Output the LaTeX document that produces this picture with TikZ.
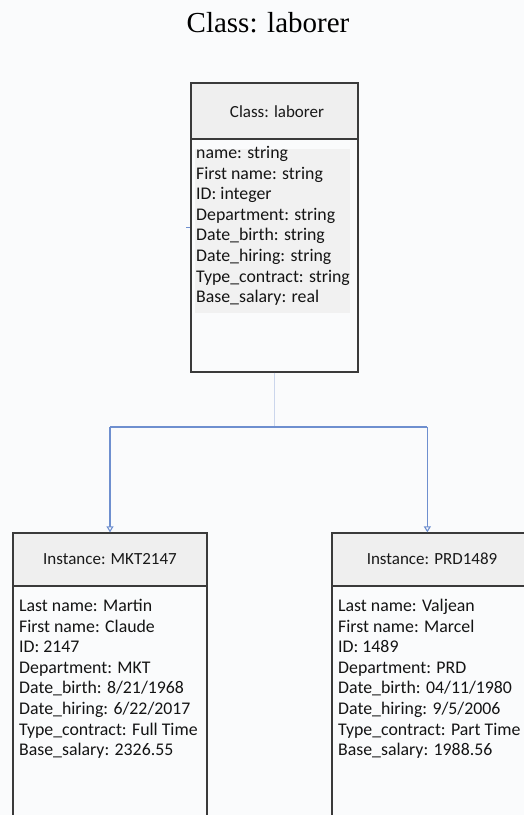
\documentclass[tikz,border=0pt]{standalone}
\usepackage{fontspec}
\setmainfont{Carlito}
\newfontfamily\titlefont{Liberation Serif}
\usetikzlibrary{arrows.meta,calc}

\definecolor{pagebg}{HTML}{FAFBFC}
\definecolor{headfill}{HTML}{EFEFEF}
\definecolor{attrfill}{HTML}{F1F1F1}
\definecolor{boxline}{HTML}{3A3A3A}
\definecolor{linkblue}{HTML}{6E8FCF}
\definecolor{stubblue}{HTML}{CBD6EC}

\tikzset{
  headbox/.style={draw=boxline, line width=1.3pt, fill=headfill, rectangle, inner sep=0pt},
  headtext/.style={inner sep=0pt, font=\fontsize{17}{20}\selectfont, text=black!90},
  bodybox/.style={draw=boxline, line width=1.3pt, fill=pagebg, rectangle, inner sep=0pt},
  fieldlist/.style={align=left, inner sep=0pt, anchor=north west,
                    font=\fontsize{17.8}{20.6}\selectfont, text=black!92},
  link/.style={draw=linkblue, line width=1.1pt},
  linktip/.style={-{Triangle[open, length=6pt, width=7pt]}},
}

\begin{document}
\begin{tikzpicture}[x=1pt, y=-1pt]
  % page
  \fill[pagebg] (0,0) rectangle (524,815);
  \useasboundingbox (0,0) rectangle (524,815);
  \clip (0,0) rectangle (524,815);

  % title
  \node (title) at (268,23) {\titlefont\fontsize{29}{32}\selectfont Class: laborer};

  % class box
  \node[bodybox, minimum width=167pt, minimum height=233pt] (cbody) at (274.5,255.5) {};
  \node[headbox, minimum width=167pt, minimum height=56pt] (chead) at (274.5,111) {};
  \node[headtext] (cheadlabel) at (277,112) {Class: laborer};
  \fill[attrfill] (195,149) rectangle (350,313);
  \node[fieldlist] (cattr) at (196,146) {name: string\\First name: string\\ID: integer\\Department: string\\Date\_birth: string\\Date\_hiring: string\\Type\_contract: string\\Base\_salary: real};

  % instance MKT2147
  \node[bodybox, minimum width=194pt, minimum height=250pt] (ibody1) at (110,711) {};
  \node[headbox, minimum width=194pt, minimum height=53pt] (ihead1) at (110,559.5) {};
  \node[headtext] (ihead1label) at (110,559) {Instance: MKT2147};
  \node[fieldlist] (iattr1) at (19,599) {Last name: Martin\\First name: Claude\\ID: 2147\\Department: MKT\\Date\_birth: 8/21/1968\\Date\_hiring: 6/22/2017\\Type\_contract: Full Time\\Base\_salary: 2326.55};

  % instance PRD1489
  \node[bodybox, minimum width=208pt, minimum height=250pt] (ibody2) at (436,711) {};
  \node[headbox, minimum width=208pt, minimum height=53pt] (ihead2) at (436,559.5) {};
  \node[headtext] (ihead2label) at (432,559) {Instance: PRD1489};
  \node[fieldlist] (iattr2) at (338,599) {Last name: Valjean\\First name: Marcel\\ID: 1489\\Department: PRD\\Date\_birth: 04/11/1980\\Date\_hiring: 9/5/2006\\Type\_contract: Part Time\\Base\_salary: 1988.56};

  % connectors
  \coordinate (split) at (cbody.south |- 0,427);
  \coordinate (t1) at (ihead1.north);
  \coordinate (t2) at ($(ihead2.north west)+(96,0)$);
  \draw[draw=stubblue, line width=1.1pt] (cbody.south) -- (split);
  \draw[link] ($(t1 |- split)$) -- ($(t2 |- split)$);
  \draw[link, linktip] ($(t1 |- split)$) -- (t1);
  \draw[link, linktip] ($(t2 |- split)$) -- (t2);

  % small mark at the class box edge
  \coordinate (tick) at (cbody.west |- 0,227);
  \draw[linkblue, line width=1pt] ($(tick)+(-4,0)$) -- (tick);
\end{tikzpicture}
\end{document}
